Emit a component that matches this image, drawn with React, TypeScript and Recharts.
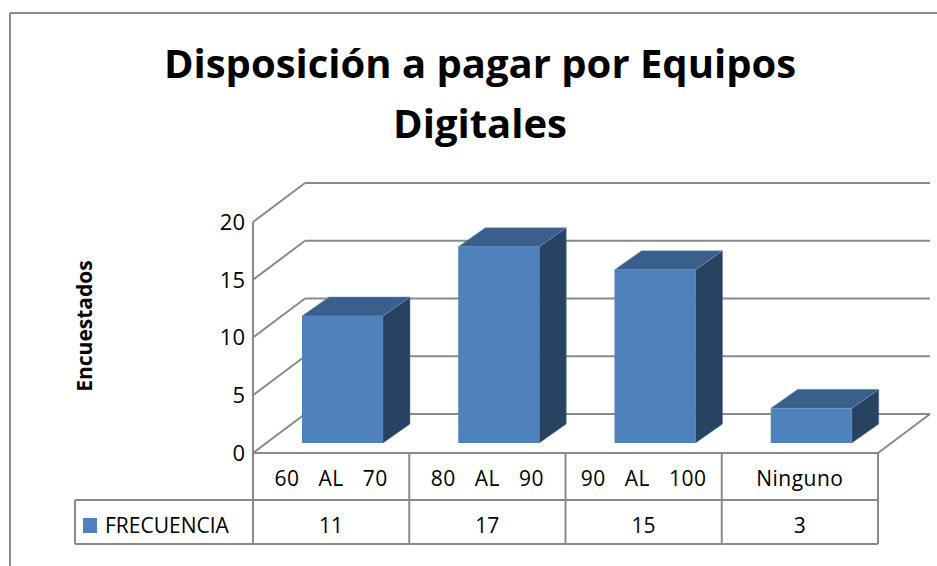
import React from 'react';
import { BarChart, Bar, XAxis, YAxis, CartesianGrid } from 'recharts';

const categories = ['60 AL 70', '80 AL 90', '90 AL 100', 'Ninguno'];
const frecuencia = [11, 17, 15, 3];
const yTicks = [0, 5, 10, 15, 20];
const seriesName = 'FRECUENCIA';
const titleLines = ['Disposición a pagar por Equipos', 'Digitales'];
const yLabel = 'Encuestados';

const W = 937;
const H = 566;
const PLOT_LEFT = 253;
const PLOT_RIGHT = 878;
const PLOT_TOP = 222;
const PLOT_BOTTOM = 453;
const Y_AXIS_W = 60;
const ROW_MID = 500;
const TABLE_BOTTOM = 544;
const LEGEND_LEFT = 75;
const X_AXIS_H = TABLE_BOTTOM - PLOT_BOTTOM;

// 3D offsets: back wall and bar depth
const DX = 52;
const DY = -39;
const BAR_SHIFT_X = 11.5;
const BAR_SHIFT_Y = -10;
const BAR_DX = 27;
const BAR_DY = -19;

const GRID = '#8a8a8a';
const FRONT = '#4f81bd';
const TOP = '#3b5f8b';
const SIDE = '#284262';
const FONT = '"Open Sans", sans-serif';

const data = categories.map((c, i) => ({ name: c, value: frecuencia[i] }));

const gridLine = (p: any) => {
  const isFloor = Math.abs(p.y1 - PLOT_BOTTOM) < 1;
  return (
    <g key={p.key ?? `g-${p.index}`}>
      <line x1={p.x1} y1={p.y1} x2={p.x1 + DX} y2={p.y1 + DY} stroke={GRID} strokeWidth={2} />
      <line x1={p.x1 + DX} y1={p.y1 + DY} x2={p.x2 + DX} y2={p.y2 + DY} stroke={GRID} strokeWidth={2} />
      {isFloor && (
        <line x1={p.x2} y1={p.y2} x2={p.x2 + DX} y2={p.y2 + DY} stroke={GRID} strokeWidth={2} />
      )}
    </g>
  );
};

const Bar3D = (props: any) => {
  const { x, y, width, height } = props;
  if (!width || height == null) return null;
  const fx = x + BAR_SHIFT_X;
  const fy = y + BAR_SHIFT_Y;
  const top = `${fx},${fy} ${fx + BAR_DX},${fy + BAR_DY} ${fx + width + BAR_DX},${fy + BAR_DY} ${fx + width},${fy}`;
  const side = `${fx + width},${fy} ${fx + width + BAR_DX},${fy + BAR_DY} ${fx + width + BAR_DX},${fy + height + BAR_DY} ${fx + width},${fy + height}`;
  return (
    <g>
      <polygon points={side} fill={SIDE} stroke="#5a7aa6" strokeWidth={0.5} />
      <polygon points={top} fill={TOP} stroke="#7a9ccc" strokeWidth={0.5} />
      <rect x={fx} y={fy} width={width} height={height} fill={FRONT} />
    </g>
  );
};

const TableTick = (props: any) => {
  const { x, payload } = props;
  const i = payload?.index ?? props.index ?? 0;
  const colW = (PLOT_RIGHT - PLOT_LEFT) / categories.length;
  const left = x - colW / 2;
  const right = x + colW / 2;
  return (
    <g>
      <line x1={right} y1={PLOT_BOTTOM} x2={right} y2={TABLE_BOTTOM} stroke={GRID} strokeWidth={2} />
      <line x1={left} y1={ROW_MID} x2={right} y2={ROW_MID} stroke={GRID} strokeWidth={2} />
      <line x1={left} y1={TABLE_BOTTOM} x2={right} y2={TABLE_BOTTOM} stroke={GRID} strokeWidth={2} />
      {i === 0 && (
        <g>
          <line x1={left} y1={PLOT_BOTTOM} x2={left} y2={TABLE_BOTTOM} stroke={GRID} strokeWidth={2} />
          <line x1={LEGEND_LEFT} y1={ROW_MID} x2={left} y2={ROW_MID} stroke={GRID} strokeWidth={2} />
          <line x1={LEGEND_LEFT} y1={TABLE_BOTTOM} x2={left} y2={TABLE_BOTTOM} stroke={GRID} strokeWidth={2} />
          <line x1={LEGEND_LEFT} y1={ROW_MID} x2={LEGEND_LEFT} y2={TABLE_BOTTOM} stroke={GRID} strokeWidth={2} />
          <rect x={83} y={518} width={14} height={15} fill={FRONT} />
          <text x={105} y={526} dy="0.35em" fontSize={21} fontFamily={FONT} fill="#000">
            {seriesName}
          </text>
        </g>
      )}
      <text x={x} y={479} dy="0.35em" textAnchor="middle" fontSize={21} fontFamily={FONT} fill="#000" wordSpacing={13} letterSpacing={0.5}>
        {payload.value}
      </text>
      <text x={x} y={526} dy="0.35em" textAnchor="middle" fontSize={21} fontFamily={FONT} fill="#000">
        {frecuencia[i]}
      </text>
    </g>
  );
};

export default function App() {
  return (
    <div style={{ position: 'absolute', left: 0, top: 0, width: W, height: H, background: '#fff', overflow: 'hidden' }}>
      <BarChart
        width={W}
        height={H}
        data={data}
        margin={{ top: PLOT_TOP, right: W - PLOT_RIGHT, left: PLOT_LEFT - Y_AXIS_W, bottom: H - PLOT_BOTTOM - X_AXIS_H }}
        barCategoryGap="24%"
      >
        <CartesianGrid vertical={false} horizontal={gridLine} />
        <YAxis
          width={Y_AXIS_W}
          domain={[0, 20]}
          ticks={yTicks}
          tickLine={false}
          axisLine={{ stroke: GRID, strokeWidth: 2 }}
          tick={{ fill: '#000', fontSize: 22, fontFamily: FONT }}
        />
        <XAxis
          dataKey="name"
          height={X_AXIS_H}
          interval={0}
          tickLine={false}
          axisLine={{ stroke: GRID, strokeWidth: 2 }}
          tick={<TableTick />}
        />
        <Bar dataKey="value" name={seriesName} fill={FRONT} shape={<Bar3D />} isAnimationActive={false} />
      </BarChart>
      <svg width={W} height={H} style={{ position: 'absolute', left: 0, top: 0, pointerEvents: 'none' }}>
        <line x1={10} y1={13} x2={W} y2={13} stroke={GRID} strokeWidth={2} />
        <line x1={10} y1={13} x2={10} y2={H} stroke={GRID} strokeWidth={2} />
        {titleLines.map((t, i) => (
          <text key={t} x={480} y={78 + i * 60} textAnchor="middle" fontSize={40} fontWeight="bold" fontFamily={FONT} fill="#000">
            {t}
          </text>
        ))}
        <text
          x={85}
          y={326}
          dy="0.35em"
          textAnchor="middle"
          fontSize={21}
          fontWeight="bold"
          fontFamily={FONT}
          fill="#000"
          transform="rotate(-90 85 326)"
        >
          {yLabel}
        </text>
      </svg>
    </div>
  );
}
